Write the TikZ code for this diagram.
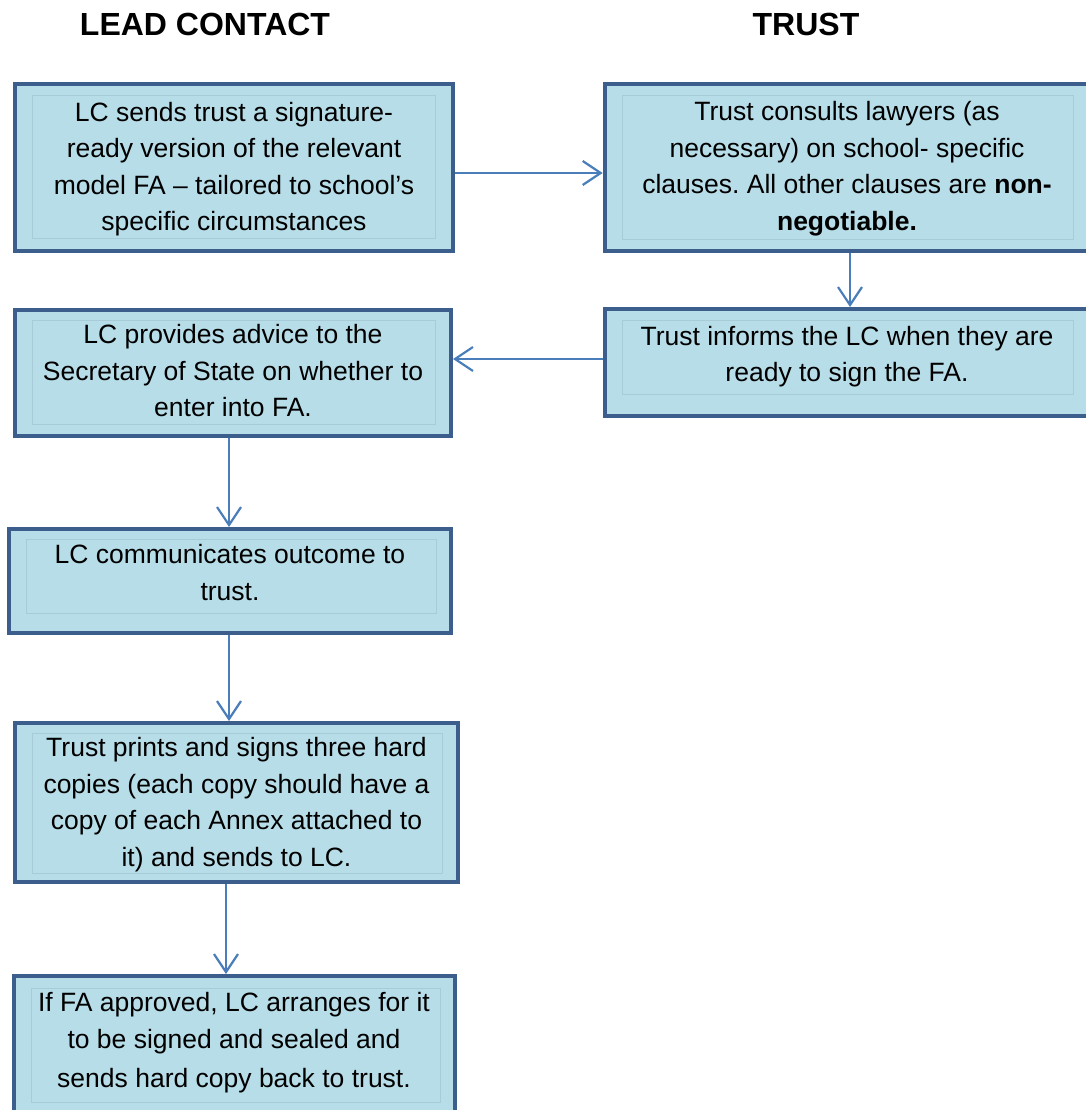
\documentclass[tikz,border=0pt]{standalone}
\usepackage{fontspec}
\setmainfont{Liberation Sans}
\usetikzlibrary{arrows.meta}
\definecolor{boxfill}{HTML}{B7DDE8}
\definecolor{boxline}{HTML}{3B5E8C}
\definecolor{innerline}{HTML}{A7CCD8}
\definecolor{arrowcol}{HTML}{4A7EBB}
\frenchspacing
\begin{document}
\begin{tikzpicture}[x=1pt,y=-1pt,
  flowbox/.style={draw=boxline, fill=boxfill, line width=4pt, rectangle, inner sep=0pt},
  innerframe/.style={draw=innerline, line width=0.8pt},
  boxtext/.style={anchor=north, inner sep=0pt, align=center, text=black,
    font=\fontsize{26.5}{36.5}\selectfont},
  header/.style={anchor=base, inner sep=0pt, font=\fontsize{32}{38}\selectfont\bfseries},
  arr/.style={draw=arrowcol, line width=2.2pt, -{Straight Barb[length=18pt,width=24pt,line width=2.2pt]}}]
\useasboundingbox (0,0) rectangle (1085,1110);

% headers
\node[header] (h1) at (205,36) {LEAD CONTACT};
\node[header] (h2) at (806,36) {TRUST};

% boxes
\node[flowbox, minimum width=438.3pt, minimum height=167.3pt] (b1) at (233.9,167.4) {};
\node[flowbox, minimum width=492.3pt, minimum height=166.7pt] (b2) at (850.85,167.35) {};
\node[flowbox, minimum width=492.3pt, minimum height=107.3pt] (b3) at (850.85,362.65) {};
\node[flowbox, minimum width=436pt, minimum height=126pt] (b4) at (233,372.7) {};
\node[flowbox, minimum width=442pt, minimum height=104pt] (b5) at (230,581) {};
\node[flowbox, minimum width=443pt, minimum height=159pt] (b6) at (236.5,802.5) {};
\node[flowbox, minimum width=441pt, minimum height=148pt] (b7) at (234.5,1050) {};

% inner frames
\draw[innerframe] (32,95) rectangle (435,238);
\draw[innerframe] (622,95) rectangle (1073,239);
\draw[innerframe] (622,320) rectangle (1073,394);
\draw[innerframe] (32,320) rectangle (435,424);
\draw[innerframe] (26,539) rectangle (436,613);
\draw[innerframe] (32,733) rectangle (442,873);
\draw[innerframe] (31,988) rectangle (440,1102);

% texts
\node[boxtext] (t1) at (234,95.45) {\strut LC sends trust a signature-\\ready version of the relevant\\model FA -- tailored to school’s\\specific circumstances\strut};
\node[boxtext] (t2) at (847,95) {\strut Trust consults lawyers (as\\necessary) on school- specific\\clauses. All other clauses are \textbf{non-}\\\textbf{negotiable.}\strut};
\node[boxtext] (t3) at (847,319.5) {\strut Trust informs the LC when they are\\ready to sign the FA.\strut};
\node[boxtext] (t4) at (233,318) {\strut LC provides advice to the\\Secretary of State on whether to\\enter into FA.\strut};
\node[boxtext] (t5) at (230,537.8) {\strut LC communicates outcome to\\trust.\strut};
\node[boxtext] (t6) at (236.5,731.2) {\strut Trust prints and signs three hard\\copies (each copy should have a\\copy of each Annex attached to\\it) and sends to LC.\strut};
\node[boxtext] (t7) at (234,986.2) {\strut If FA approved, LC arranges for it\\to be signed and sealed and\\[3pt]sends hard copy back to trust.\strut};

% connector helpers
\coordinate (ya) at (0,173);
\coordinate (yb) at (0,359);
\coordinate (xa) at (850,0);
\coordinate (xb) at (229,0);
\coordinate (xc) at (226,0);

% connectors
\draw[arr] (b1.east |- ya) -- (b2.west |- ya);
\draw[arr] (b2.south -| xa) -- (b3.north -| xa);
\draw[arr] (b3.west |- yb) -- (b4.east |- yb);
\draw[arr] (b4.south -| xb) -- (b5.north -| xb);
\draw[arr] (b5.south -| xb) -- (b6.north -| xb);
\draw[arr] (b6.south -| xc) -- (b7.north -| xc);
\end{tikzpicture}
\end{document}
